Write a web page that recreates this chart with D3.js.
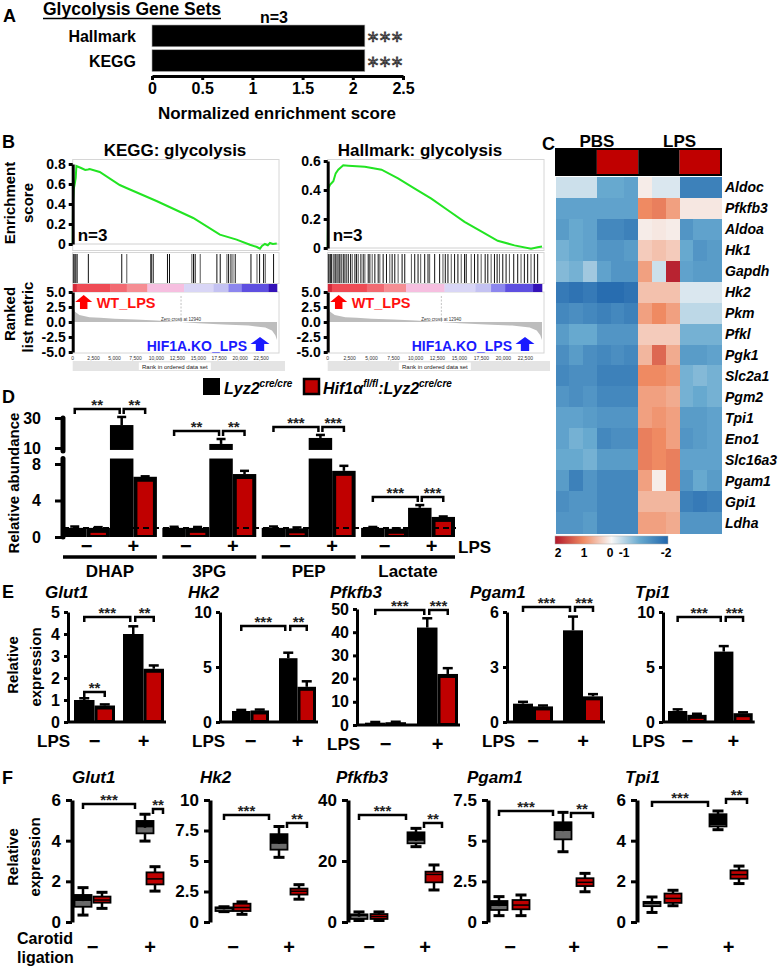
<!DOCTYPE html>
<html><head><meta charset="utf-8">
<script src="https://cdn.jsdelivr.net/npm/d3@7"></script>
<style>
body{margin:0;background:#fff;}
svg{display:block;}
</style></head><body>
<svg id="fig" width="781" height="968"></svg>
<script>
// ================= DATA =================
// Panel A
const nesSets = ["Hallmark", "KEGG"];
const nesScores = [2.12, 2.12];
const nesStars = ["***", "***"];
const nesTicks = [0, 0.5, 1, 1.5, 2, 2.5];

// Panel B (GSEA)
const rankMax = 24400;
const rankTicks = [0, 2500, 5000, 7500, 10000, 12500, 15000, 17500, 20000, 22500];
const keggES = [[0,0],[40,0.42],[120,0.55],[240,0.60],[360,0.66],[440,0.78],[1000,0.76],[1500,0.74],[1830,0.745],[2030,0.75],[3230,0.72],[5620,0.59],[6420,0.56],[10010,0.43],[14390,0.26],[17580,0.094],[19580,0.044],[21170,-0.007],[22000,-0.03],[22370,-0.047],[22600,-0.02],[22960,0.0],[23300,-0.012],[23560,0.01],[23900,0.0],[24370,0.005]];
const keggHits = [80,160,280,400,560,1870,5860,6460,9330,9450,9650,11320,11560,14230,14430,14630,15230,17220,17620,18420,18620,18900,19140,19410,21290,22010,22320,22800,23000,23990];
const hallmarkES = [[0,0],[70,0.41],[260,0.435],[640,0.46],[910,0.515],[1200,0.54],[1770,0.57],[2340,0.568],[4230,0.56],[6130,0.54],[8010,0.48],[9910,0.41],[11800,0.34],[13690,0.26],[15580,0.18],[17480,0.115],[19360,0.05],[21260,0.018],[23150,-0.005],[23900,0.005],[24400,0.01]];
const hallmarkHits = [72,186,337,450,640,829,942,1094,1283,1396,1585,1775,1964,2153,2342,2607,2796,3099,3288,3477,3780,4044,4234,4612,4801,5066,5369,5747,5936,6314,6693,7071,7336,7638,8017,8471,8773,9530,9908,10287,10589,11043,11421,11610,12178,12745,13124,13389,13691,14069,14448,14826,15204,15583,15772,16339,16717,17096,17474,17928,18231,18609,18987,19290,19555,19933,20311,20690,21181,21635,22014,22392,22770,23149,23527,23905];
const rankedMetric = [[0,3.3],[100,2.5],[280,1.7],[800,1.15],[2000,0.8],[3300,0.7],[5000,0.55],[7500,0.4],[10000,0.25],[12940,0],[15000,-0.2],[18000,-0.4],[21000,-0.6],[23000,-0.9],[23800,-1.4],[24200,-2.2],[24400,-3.0]];
const zeroCross = 12940;
const rankColorStops = [[0,"#d42a3a"],[480,"#ef4b55"],[4460,"#f26a72"],[6450,"#f58d93"],[8920,"#f6bfe0"],[13300,"#d9d6f6"],[16810,"#c4c2f2"],[18600,"#8c86ee"],[20200,"#5e4fe0"],[23380,"#3412b8"]];
const keggTicks = [0, 0.2, 0.4, 0.6, 0.8];
const hallmarkTicks = [0, 0.2, 0.4, 0.6];
const metricTicks = [5, 2.5, 0, -2.5, -5];

// Panel C (heatmap)
const heatGroups = ["PBS", "LPS"];
const heatColGenotype = ["WT","WT","WT","KO","KO","KO","WT","WT","WT","KO","KO","KO"];
const heatGenes = ["Aldoc","Pfkfb3","Aldoa","Hk1","Gapdh","Hk2","Pkm","Pfkl","Pgk1","Slc2a1","Pgm2","Tpi1","Eno1","Slc16a3","Pgam1","Gpi1","Ldha"];
const heatValues = [
  [-0.3,-0.3,-0.3,-1.0,-1.0,-1.1, 0.1,-0.2,-0.2,-1.6,-1.6,-1.6],
  [-1.1,-1.1,-1.1,-1.1,-1.1,-1.1, 1.0, 1.1, 0.8, 0.15,0.15,0.15],
  [-1.2,-1.0,-1.1,-1.5,-1.5,-1.6, 0.1, 0.15,0.1,-1.3,-1.1,-1.1],
  [-0.9,-1.0,-1.1,-1.3,-1.3,-1.2, 0.4, 0.5, 0.4,-1.0,-1.3,-1.2],
  [-0.8,-0.9,-0.6,-1.1,-1.3,-1.3, 0.8,-0.3, 1.9,-1.1,-1.2,-1.2],
  [-1.7,-1.8,-1.7,-1.9,-1.9,-1.8, 0.5, 0.5, 0.5,-0.2,-0.2,-0.2],
  [-1.5,-1.4,-1.5,-1.6,-1.5,-1.6, 0.8, 1.0, 0.8,-0.4,-0.4,-0.4],
  [-1.2,-1.0,-1.0,-1.3,-1.3,-1.3, 0.4, 0.4, 0.4,-0.9,-0.9,-0.9],
  [-1.4,-1.2,-1.4,-1.5,-1.4,-1.5, 0.6, 1.3, 0.7,-1.2,-1.2,-1.1],
  [-1.5,-1.4,-1.4,-1.6,-1.6,-1.6, 1.0, 1.0, 0.9,-0.9,-0.8,-0.9],
  [-1.3,-1.4,-1.3,-1.5,-1.5,-1.5, 0.8, 0.8, 0.7,-0.9,-1.0,-0.9],
  [-1.1,-1.1,-1.2,-1.3,-1.3,-1.3, 0.8, 0.9, 0.8,-1.2,-1.2,-1.1],
  [-1.1,-0.9,-1.0,-1.5,-1.4,-1.4, 1.1, 1.0, 0.8,-1.3,-1.2,-1.1],
  [-1.0,-1.0,-0.9,-1.2,-1.2,-1.2, 1.1, 1.0, 1.1,-1.1,-1.1,-1.1],
  [-1.2,-1.6,-1.3,-1.5,-1.5,-1.5, 0.8, 0.1, 1.1,-1.3,-1.0,-1.2],
  [-1.4,-1.3,-1.3,-1.5,-1.5,-1.5, 0.6, 0.6, 0.6,-1.6,-1.7,-1.6],
  [-1.3,-1.3,-1.2,-1.5,-1.5,-1.5, 0.8, 0.8, 0.7,-1.3,-1.3,-1.3]
];
const heatLegendTicks = [2, 1, 0, -1, -2];

// Panel D (metabolites)
const metabolites = ["DHAP", "3PG", "PEP", "Lactate"];
const metabWT_PBS = [1.0, 1.0, 1.0, 1.0];
const metabKO_PBS = [1.0, 1.0, 0.95, 0.9];
const metabWT_LPS = [25.3, 12.7, 16.7, 3.2];
const metabKO_LPS = [6.6, 6.9, 7.25, 2.2];
const metabErrWT_PBS = [0.15, 0.12, 0.15, 0.1];
const metabErrKO_PBS = [0.08, 0.1, 0.1, 0.05];
const metabErrWT_LPS = [5.4, 3.3, 2.0, 0.3];
const metabErrKO_LPS = [0.05, 0.35, 0.55, 0.05];
const metabStars = [["**","**"],["**","**"],["***","***"],["***","***"]];
const metabLowTicks = [0, 4, 8];
const metabHighTicks = [10, 30];

// Legend
const genotypes = ["Lyz2", "Hif1α"];

// Panel E (qPCR bars)
const genesE = ["Glut1", "Hk2", "Pfkfb3", "Pgam1", "Tpi1"];
const exprWT_PBS = [1.0, 1.0, 1.0, 1.0, 1.0];
const exprKO_PBS = [0.75, 1.05, 1.2, 0.85, 0.65];
const exprWT_LPS = [4.0, 5.8, 42, 5.0, 6.4];
const exprKO_LPS = [2.42, 3.2, 22, 1.4, 0.8];
const errWT_PBS = [0.08, 0.1, 0.3, 0.1, 0.15];
const errKO_PBS = [0.05, 0.08, 0.2, 0.05, 0.1];
const errWT_LPS = [0.35, 0.5, 4, 0.75, 0.5];
const errKO_LPS = [0.15, 0.5, 2.5, 0.12, 0.08];
const yMaxE = [5, 10, 50, 6, 10];
const yTicksE = [[0,1,2,3,4,5],[0,5,10],[0,10,20,30,40,50],[0,3,6],[0,5,10]];
const starsE = [["***","**","**"],["***","**"],["***","***"],["***","***"],["***","***"]];

// Panel F (box plots) [low whisker, q1, median, q3, high whisker]
const genesF = ["Glut1", "Hk2", "Pfkfb3", "Pgam1", "Tpi1"];
const boxWT_sham = [[0.34,0.75,1.03,1.33,1.69],[0.85,0.9,1.05,1.2,1.25],[0.5,1.0,1.8,2.5,3.3],[0.39,0.74,0.98,1.29,1.56],[0.47,0.78,0.88,0.99,1.23]];
const boxKO_sham = [[0.67,0.95,1.08,1.25,1.46],[0.63,0.9,1.19,1.5,1.65],[0.5,1.0,1.8,2.6,3.3],[0.39,0.78,1.04,1.35,1.66],[0.8,0.94,1.16,1.4,1.56]];
const boxWT_lig = [[3.98,4.36,4.64,4.97,5.3],[5.3,5.93,6.4,7.2,7.83],[24.7,25.8,26.6,29.4,30.7],[4.32,5.08,5.59,6.13,6.74],[4.54,4.7,4.77,5.3,5.46]];
const boxKO_lig = [[1.52,1.85,2.12,2.44,2.72],[1.87,2.25,2.52,2.74,3.06],[10.5,13.0,15.6,16.5,18.7],[1.86,2.21,2.44,2.69,2.99],[1.89,2.13,2.33,2.54,2.75]];
const yMaxF = [6, 10, 40, 7.5, 6];
const yTicksF = [[0,2,4,6],[0,2.5,5,7.5,10],[0,20,40],[0,2.5,5,7.5],[0,2,4,6]];
const starsF = [["***","**"],["***","**"],["***","**"],["***","**"],["***","**"]];

// ================= DRAW =================
const FONT = "'Liberation Sans', Arial, Helvetica, sans-serif";
const RED = "#c00000";
const svg = d3.select("#fig").attr("font-family", FONT).attr("font-weight", "bold");

function txt(g, x, y, s, o = {}) {
  const t = g.append("text").attr("x", x).attr("y", y).text(s)
    .attr("font-size", o.size || 14).attr("font-weight", o.weight || "bold")
    .attr("text-anchor", o.anchor || "start").attr("fill", o.fill || "#000");
  if (o.italic) t.attr("font-style", "italic");
  if (o.family) t.attr("font-family", o.family);
  if (o.rotate) t.attr("transform", `rotate(-90,${x},${y})`);
  return t;
}
function styleAxis(ax, fs, w, tw) {
  ax.attr("font-family", FONT).attr("font-size", fs).attr("font-weight", "bold");
  ax.select(".domain").attr("stroke-width", w).attr("stroke", "#000");
  ax.selectAll(".tick line").attr("stroke-width", tw || w).attr("stroke", "#000");
  ax.selectAll(".tick text").attr("fill", "#000");
}
function bracket(g, x1, x2, y, label, fs = 15) {
  g.append("path").attr("d", `M${x1},${y + 5}V${y}H${x2}V${y + 5}`)
    .attr("fill", "none").attr("stroke", "#000").attr("stroke-width", 2.5);
  g.append("text").attr("x", (x1 + x2) / 2).attr("y", y + 1).attr("text-anchor", "middle")
    .attr("font-size", fs).attr("fill", "#222").text(label);
}
function upArrow(g, cx, top, w, h, fill) {
  const s = w * 0.22, m = top + h * 0.5;
  g.append("path").attr("d", `M${cx},${top}L${cx + w / 2},${m}L${cx + s},${m}L${cx + s},${top + h}L${cx - s},${top + h}L${cx - s},${m}L${cx - w / 2},${m}Z`).attr("fill", fill);
}

// ---------- Panel A ----------
{
  const g = svg.append("g");
  txt(g, 3, 22, "A", { size: 18 });
  txt(g, 43, 15, "Glycolysis Gene Sets", { size: 17.5 });
  g.append("line").attr("x1", 43).attr("x2", 221).attr("y1", 18.5).attr("y2", 18.5).attr("stroke", "#000").attr("stroke-width", 1.6);
  txt(g, 274, 23, "n=3", { size: 16, anchor: "middle" });
  const x = d3.scaleLinear().domain([0, 2.5]).range([152, 403]);
  const y = d3.scaleBand().domain(nesSets).range([25, 71.5]).paddingInner(0.12);
  nesSets.forEach((s, i) => {
    g.append("rect").attr("x", x(0)).attr("y", y(s)).attr("width", x(nesScores[i]) - x(0)).attr("height", y.bandwidth())
      .attr("fill", "#000").attr("stroke", "#aaa").attr("stroke-width", 0.6);
    txt(g, 136, y(s) + y.bandwidth() / 2 + 6, s, { size: 16, anchor: "end" });
    g.append("text").attr("x", x(nesScores[i]) + 3).attr("y", y(s) + y.bandwidth() / 2 + 12)
      .attr("font-family", "'DejaVu Sans', sans-serif").attr("font-size", 21).attr("font-weight", "normal")
      .attr("fill", "#fff").attr("stroke", "#333").attr("stroke-width", 0.9).attr("letter-spacing", 1.5).text(nesStars[i]);
  });
  const ax = g.append("g").attr("transform", "translate(0,76)")
    .call(d3.axisBottom(x).tickValues(nesTicks).tickSize(4).tickSizeOuter(0).tickPadding(3).tickFormat(d => String(d)));
  styleAxis(ax, 16, 3);
  txt(g, 277, 119, "Normalized enrichment score", { size: 17, anchor: "middle" });
}

// ---------- Panel B ----------
txt(svg, 2, 148, "B", { size: 18 });
txt(svg, 15, 203, "Enrichment", { size: 15, anchor: "middle", rotate: true });
txt(svg, 33, 203, "score", { size: 15, anchor: "middle", rotate: true });
txt(svg, 15, 314, "Ranked", { size: 15, anchor: "middle", rotate: true });
txt(svg, 33, 317, "list metric", { size: 15, anchor: "middle", rotate: true });

function drawGSEA(L, es, hits, esTicks, esMax, title) {
  const g = svg.append("g");
  const x = d3.scaleLinear().domain([0, rankMax]).range([L.x0, L.x1]);
  const yE = d3.scaleLinear().domain([0, esMax]).range([L.es0, L.esTop]);
  const yM = d3.scaleLinear().domain([-5, 5]).range([352, 292]);
  txt(g, L.titleX, 156, title, { size: 17, anchor: "middle" });
  g.append("rect").attr("x", L.x0).attr("y", 159.5).attr("width", L.x1 - L.x0 + 2).attr("height", 91)
    .attr("fill", "#fff").attr("stroke", "#d6d6d6").attr("stroke-width", 1);
  g.append("line").attr("x1", L.x0).attr("x2", L.x1 + 2).attr("y1", yE(0)).attr("y2", yE(0)).attr("stroke", "#d0d0d0");
  g.append("rect").attr("x", L.x0).attr("y", 252.5).attr("width", L.x1 - L.x0 + 2).attr("height", 31)
    .attr("fill", "#fff").attr("stroke", "#d6d6d6").attr("stroke-width", 1);
  g.append("rect").attr("x", L.x0).attr("y", 292).attr("width", L.x1 - L.x0 + 2).attr("height", 61)
    .attr("fill", "#fff").attr("stroke", "#d6d6d6").attr("stroke-width", 1);
  g.selectAll(".hit").data(hits).enter().append("line")
    .attr("x1", d => x(d)).attr("x2", d => x(d)).attr("y1", 254).attr("y2", 283)
    .attr("stroke", (d, i) => i % 3 === 1 ? "#555" : "#111").attr("stroke-width", 1);
  rankColorStops.forEach((s, i) => {
    const end = i < rankColorStops.length - 1 ? rankColorStops[i + 1][0] : rankMax;
    g.append("rect").attr("x", x(s[0])).attr("y", 284).attr("width", x(end) - x(s[0]) + 0.3).attr("height", 8).attr("fill", s[1]);
  });
  g.append("path").datum(rankedMetric)
    .attr("d", d3.area().x(d => x(d[0])).y0(yM(0)).y1(d => yM(d[1])))
    .attr("fill", "#bdbdbd");
  g.append("line").attr("x1", x(zeroCross)).attr("x2", x(zeroCross)).attr("y1", 296).attr("y2", yM(0))
    .attr("stroke", "#999").attr("stroke-width", 0.6).attr("stroke-dasharray", "2,1.5");
  txt(g, x(zeroCross), yM(0) - 1, "Zero cross at " + zeroCross, { size: 4.5, anchor: "middle", weight: "normal", fill: "#333" });
  g.append("path").datum(es)
    .attr("d", d3.line().x(d => x(d[0])).y(d => yE(d[1])))
    .attr("fill", "none").attr("stroke", "#22e422").attr("stroke-width", 2);
  txt(g, L.x0 + 5, 241, "n=3", { size: 17 });
  upArrow(g, L.x0 + 11, 295, 17, 14, "#ff0000");
  txt(g, L.x0 + 24, 308, "WT_LPS", { size: 14.5, fill: "#ff1010" });
  txt(g, L.x1 - 30, 351, "HIF1A.KO_LPS", { size: 14, fill: "#1a1aff", anchor: "end" });
  upArrow(g, L.x1 - 17, 337, 19, 14, "#1a1aff");
  g.append("rect").attr("x", L.x0).attr("y", 361).attr("width", L.x1 - L.x0 + 8).attr("height", 10).attr("fill", "#e4e4e4");
  rankTicks.forEach(t => txt(g, x(t), 359.5, d3.format(",")(t), { size: 5, weight: "normal", anchor: "middle", fill: "#333" }));
  const cx = (L.x0 + L.x1) / 2;
  g.append("rect").attr("x", cx - 36).attr("y", 362.5).attr("width", 72).attr("height", 7.5).attr("fill", "#fff");
  txt(g, cx, 368.5, "Rank in ordered data set", { size: 6, weight: "normal", anchor: "middle", fill: "#222" });
  const a1 = g.append("g").attr("transform", `translate(${L.x0},0)`)
    .call(d3.axisLeft(yE).tickValues(esTicks).tickSize(4).tickSizeOuter(0).tickPadding(3).tickFormat(d => d === 0 ? "0" : d.toFixed(1)));
  styleAxis(a1, 14, 3);
  const a2 = g.append("g").attr("transform", `translate(${L.x0},0)`)
    .call(d3.axisLeft(yM).tickValues(metricTicks).tickSize(4).tickSizeOuter(0).tickPadding(3).tickFormat(d => d.toFixed(1)));
  styleAxis(a2, 14, 3);
}
drawGSEA({ x0: 72.7, x1: 277, es0: 244, esTop: 164, titleX: 175 }, keggES, keggHits, keggTicks, 0.8, "KEGG: glycolysis");
drawGSEA({ x0: 327.7, x1: 542, es0: 248, esTop: 161, titleX: 420 }, hallmarkES, hallmarkHits, hallmarkTicks, 0.6, "Hallmark: glycolysis");

// ---------- Panel C ----------
{
  const g = svg.append("g");
  txt(g, 542, 150, "C", { size: 18 });
  const xC = d3.scaleBand().domain(d3.range(12)).range([555.5, 721]);
  const yC = d3.scaleBand().domain(heatGenes).range([177, 533]);
  const col = d3.scaleLinear().domain([2, 1, 0, -1, -2]).range(["#b2182b", "#ef8a62", "#f7f7f7", "#67a9cf", "#2166ac"]).clamp(true);
  heatGroups.forEach((h, i) => txt(g, xC(i * 6) + xC.bandwidth() * 3, 147, h, { size: 17, anchor: "middle" }));
  // header: merge consecutive columns of the same genotype
  let start = 0;
  heatColGenotype.forEach((gt, j) => {
    if (j === heatColGenotype.length - 1 || heatColGenotype[j + 1] !== gt) {
      g.append("rect").attr("x", xC(start)).attr("y", 149).attr("width", xC(j) + xC.bandwidth() - xC(start)).attr("height", 26)
        .attr("fill", gt === "WT" ? "#000" : RED);
      start = j + 1;
    }
  });
  g.append("rect").attr("x", 556).attr("y", 149).attr("width", 165).attr("height", 26).attr("fill", "none").attr("stroke", "#000").attr("stroke-width", 2);
  heatGenes.forEach((gene, r) => {
    heatValues[r].forEach((v, j) => {
      g.append("rect").attr("x", xC(j)).attr("y", yC(gene)).attr("width", xC.bandwidth() + 0.5).attr("height", yC.bandwidth() + 0.5)
        .attr("fill", col(v)).attr("shape-rendering", "crispEdges");
    });
    txt(g, 725, yC(gene) + yC.bandwidth() / 2 + 5, gene, { size: 14, italic: true });
  });
  const grad = svg.append("defs").append("linearGradient").attr("id", "hmgrad");
  heatLegendTicks.forEach((t, i) => grad.append("stop").attr("offset", i / (heatLegendTicks.length - 1)).attr("stop-color", col(t)));
  g.append("rect").attr("x", 555).attr("y", 536).attr("width", 113).attr("height", 8).attr("fill", "url(#hmgrad)").attr("stroke", "#aaa").attr("stroke-width", 0.5);
  const lx = d3.scaleLinear().domain([2, 1, 0, -1, -2]).range([558, 584, 610, 624, 666]);
  heatLegendTicks.forEach(t => txt(g, lx(t), 557, String(t), { size: 12, anchor: "middle" }));
}

// ---------- Legend ----------
{
  const g = svg.append("g");
  g.append("rect").attr("x", 203).attr("y", 378).attr("width", 17).attr("height", 17).attr("fill", "#000");
  const t1 = g.append("text").attr("x", 224).attr("y", 394).attr("font-size", 16).attr("font-style", "italic");
  t1.append("tspan").text(genotypes[0]);
  t1.append("tspan").text("cre/cre").attr("font-size", 10).attr("dy", -7);
  g.append("rect").attr("x", 304).attr("y", 379).attr("width", 15).attr("height", 15).attr("fill", RED).attr("stroke", "#000").attr("stroke-width", 2.5);
  const t2 = g.append("text").attr("x", 323).attr("y", 394).attr("font-size", 16).attr("font-style", "italic");
  t2.append("tspan").text(genotypes[1]);
  t2.append("tspan").text("fl/fl").attr("font-size", 10).attr("dy", -7);
  t2.append("tspan").text(":" + genotypes[0]).attr("dy", 7);
  t2.append("tspan").text("cre/cre").attr("font-size", 10).attr("dy", -7);
}

// ---------- Panel D ----------
{
  const g = svg.append("g");
  txt(g, 2, 403, "D", { size: 18 });
  txt(g, 19, 483, "Relative abundance", { size: 15, anchor: "middle", rotate: true });
  const xD = d3.scaleBand().domain(metabolites).range([63, 455]).paddingInner(0.055);
  const xIn = d3.scaleBand().domain(d3.range(4)).range([0, xD.bandwidth()]);
  const yLow = d3.scaleLinear().domain([0, 8]).range([537, 464]);
  const yHigh = d3.scaleLinear().domain([10, 30]).range([448, 418]);
  const yD = v => v <= 8.6 ? yLow(v) : yHigh(v);
  const lowTop = yLow(8.6), highBottom = yHigh(8.7);
  const series = [metabWT_PBS, metabKO_PBS, metabWT_LPS, metabKO_LPS];
  const errs = [metabErrWT_PBS, metabErrKO_PBS, metabErrWT_LPS, metabErrKO_LPS];
  const w = xIn.bandwidth();
  metabolites.forEach((m, i) => {
    const gx = xD(m);
    series.forEach((s, k) => {
      const v = s[i], e = errs[k][i], bx = gx + xIn(k);
      g.append("line").attr("x1", bx + w / 2).attr("x2", bx + w / 2).attr("y1", yD(v)).attr("y2", yD(v + e)).attr("stroke", "#000").attr("stroke-width", 2.5);
      g.append("line").attr("x1", bx + w / 2 - 4.5).attr("x2", bx + w / 2 + 4.5).attr("y1", yD(v + e)).attr("y2", yD(v + e)).attr("stroke", "#000").attr("stroke-width", 2.5);
      if (v <= 8.6) {
        g.append("rect").attr("x", bx).attr("y", yLow(v)).attr("width", w).attr("height", 537 - yLow(v)).attr("fill", "#000");
      } else {
        g.append("rect").attr("x", bx).attr("y", lowTop).attr("width", w).attr("height", 537 - lowTop).attr("fill", "#000");
        g.append("rect").attr("x", bx).attr("y", yHigh(v)).attr("width", w).attr("height", highBottom - yHigh(v)).attr("fill", "#000");
      }
      if (k % 2 === 1) {
        const top = yLow(Math.min(v, 8)) + 5;
        g.append("rect").attr("x", bx + 4).attr("y", top).attr("width", w - 8).attr("height", Math.max(0, 535 - top)).attr("fill", RED);
      }
    });
    const c = k => gx + xIn(k) + w / 2;
    const by = yD(Math.max(metabWT_LPS[i] + metabErrWT_LPS[i], metabKO_LPS[i] + metabErrKO_LPS[i])) - 8;
    bracket(g, c(0), c(2) - 2, by, metabStars[i][0]);
    bracket(g, c(2) + 2, c(3), by, metabStars[i][1]);
    txt(g, gx + xIn(1), 553, "\u2212", { size: 20, anchor: "middle" });
    txt(g, gx + xIn(3), 553, "+", { size: 20, anchor: "middle" });
    g.append("line").attr("x1", gx).attr("x2", gx + xD.bandwidth()).attr("y1", 557).attr("y2", 557).attr("stroke", "#000").attr("stroke-width", 3.5);
    txt(g, gx + xD.bandwidth() / 2, 577, m, { size: 17, anchor: "middle" });
  });
  g.append("line").attr("x1", 63).attr("x2", 456).attr("y1", yLow(1)).attr("y2", yLow(1))
    .attr("stroke", "#000").attr("stroke-width", 2).attr("stroke-dasharray", "6,4");
  txt(g, 458, 553, "LPS", { size: 17 });
  const a1 = g.append("g").attr("transform", "translate(63,0)").call(d3.axisLeft(yLow).tickValues(metabLowTicks).tickSize(8).tickSizeOuter(0).tickPadding(14));
  styleAxis(a1, 16, 5, 3);
  a1.select(".domain").remove();
  const a2 = g.append("g").attr("transform", "translate(63,0)").call(d3.axisLeft(yHigh).tickValues(metabHighTicks).tickSize(8).tickSizeOuter(0).tickPadding(14));
  styleAxis(a2, 16, 5, 3);
  a2.select(".domain").remove();
  g.append("line").attr("x1", 63).attr("x2", 63).attr("y1", 537).attr("y2", lowTop).attr("stroke", "#000").attr("stroke-width", 5).attr("stroke-linecap", "round");
  g.append("line").attr("x1", 63).attr("x2", 63).attr("y1", highBottom + 1).attr("y2", yHigh(30)).attr("stroke", "#000").attr("stroke-width", 5).attr("stroke-linecap", "round");
}

// ---------- Panel E ----------
{
  const g = svg.append("g");
  txt(g, 2, 598, "E", { size: 18 });
  txt(g, 18, 665, "Relative", { size: 15, anchor: "middle", rotate: true });
  txt(g, 41, 667, "expression", { size: 15, anchor: "middle", rotate: true });
  const layoutE = [
    { axisX: 68, off: 6, w: 20.5, gap: 8, top: 612, bottom: 722, titleX: 45, lpsX: 37, br: [617, 617, 692] },
    { axisX: 220, off: 12, w: 18.5, gap: 10, top: 612, bottom: 722, titleX: 188, lpsX: 192, br: [626, 626] },
    { axisX: 357, off: 8, w: 20.5, gap: 11, top: 609, bottom: 725, titleX: 330, lpsX: 327, br: [610, 610] },
    { axisX: 507, off: 6, w: 20, gap: 10, top: 612, bottom: 722, titleX: 470, lpsX: 482, br: [607, 607] },
    { axisX: 663, off: 5, w: 19.3, gap: 7.5, top: 612, bottom: 722, titleX: 635, lpsX: 632, br: [617, 617] }
  ];
  const series = [exprWT_PBS, exprKO_PBS, exprWT_LPS, exprKO_LPS];
  const errs = [errWT_PBS, errKO_PBS, errWT_LPS, errKO_LPS];
  genesE.forEach((gene, i) => {
    const L = layoutE[i];
    const y = d3.scaleLinear().domain([0, yMaxE[i]]).range([L.bottom, L.top]);
    const b0 = L.axisX + L.off;
    const bx = [b0, b0 + L.w, b0 + 2 * L.w + L.gap, b0 + 3 * L.w + L.gap];
    txt(g, L.titleX, 598, gene, { size: 17, italic: true });
    series.forEach((s, k) => {
      const v = s[i], e = errs[k][i], cx = bx[k] + L.w / 2;
      g.append("line").attr("x1", cx).attr("x2", cx).attr("y1", y(v)).attr("y2", y(v + e)).attr("stroke", "#000").attr("stroke-width", 2.5);
      g.append("line").attr("x1", cx - 5).attr("x2", cx + 5).attr("y1", y(v + e)).attr("y2", y(v + e)).attr("stroke", "#000").attr("stroke-width", 2.5);
      g.append("rect").attr("x", bx[k]).attr("y", y(v)).attr("width", L.w).attr("height", L.bottom - y(v)).attr("fill", "#000");
      if (k % 2 === 1) {
        const top = y(v) + 4;
        g.append("rect").attr("x", bx[k] + 3).attr("y", top).attr("width", L.w - 6).attr("height", Math.max(0, L.bottom - 2 - top)).attr("fill", RED);
      }
    });
    g.append("line").attr("x1", L.axisX).attr("x2", bx[3] + L.w + 2).attr("y1", L.bottom).attr("y2", L.bottom).attr("stroke", "#000").attr("stroke-width", 3);
    const ax = g.append("g").attr("transform", `translate(${L.axisX},0)`)
      .call(d3.axisLeft(y).tickValues(yTicksE[i]).tickSize(4).tickSizeOuter(0).tickPadding(4).tickFormat(d => String(d)));
    styleAxis(ax, 16, 3);
    const c = bx.map(b => b + L.w / 2);
    bracket(g, c[0], c[2] - 3, L.br[0], starsE[i][0]);
    bracket(g, c[2] + 2, c[3], L.br[1], starsE[i][1]);
    if (L.br[2]) bracket(g, c[0], c[1], L.br[2], starsE[i][2]);
    const ly = L.bottom + 26;
    txt(g, L.lpsX, ly - 1, "LPS", { size: 17 });
    txt(g, bx[1], ly, "\u2212", { size: 20, anchor: "middle" });
    txt(g, bx[3], ly, "+", { size: 20, anchor: "middle" });
  });
}

// ---------- Panel F ----------
{
  const g = svg.append("g");
  txt(g, 2, 784, "F", { size: 18 });
  txt(g, 18, 857, "Relative", { size: 15, anchor: "middle", rotate: true });
  txt(g, 40, 857, "expression", { size: 15, anchor: "middle", rotate: true });
  txt(g, 17, 944, "Carotid", { size: 16 });
  txt(g, 17, 963, "ligation", { size: 16 });
  const layoutF = [
    { axisX: 72, c: [83, 102, 145, 155], titleX: 72, br: [804, 809] },
    { axisX: 210, c: [224, 242, 279, 299], titleX: 200, br: [815, 823] },
    { axisX: 348, c: [359, 379, 416, 434], titleX: 336, br: [815, 823] },
    { axisX: 488, c: [499, 521, 563, 585], titleX: 467, br: [811, 813] },
    { axisX: 637, c: [652, 673, 718, 739], titleX: 625, br: [802, 799] }
  ];
  const boxes = [boxWT_sham, boxKO_sham, boxWT_lig, boxKO_lig];
  const bw = 17;
  genesF.forEach((gene, i) => {
    const L = layoutF[i];
    const y = d3.scaleLinear().domain([0, yMaxF[i]]).range([922, 800]);
    txt(g, L.titleX, 783, gene, { size: 17, italic: true });
    const ax = g.append("g").attr("transform", `translate(${L.axisX},0)`)
      .call(d3.axisLeft(y).tickValues(yTicksF[i]).tickSize(6).tickSizeOuter(0).tickPadding(5).tickFormat(d => String(d)));
    styleAxis(ax, 17, 4, 3);
    boxes.forEach((B, k) => {
      const [wl, q1, md, q3, wh] = B[i];
      const cx = L.c[k];
      g.append("line").attr("x1", cx).attr("x2", cx).attr("y1", y(wl)).attr("y2", y(wh)).attr("stroke", "#000").attr("stroke-width", 2.5);
      [wl, wh].forEach(v => g.append("line").attr("x1", cx - 5.5).attr("x2", cx + 5.5).attr("y1", y(v)).attr("y2", y(v)).attr("stroke", "#000").attr("stroke-width", 3));
      if (k % 2 === 0) {
        g.append("rect").attr("x", cx - bw / 2).attr("y", y(md)).attr("width", bw).attr("height", y(q1) - y(md)).attr("fill", "#6a6a6a");
        g.append("rect").attr("x", cx - bw / 2).attr("y", y(q3)).attr("width", bw).attr("height", y(md) - y(q3)).attr("fill", "#000");
        g.append("rect").attr("x", cx - bw / 2).attr("y", y(q3)).attr("width", bw).attr("height", y(q1) - y(q3)).attr("fill", "none").attr("stroke", "#000").attr("stroke-width", 1.8);
      } else {
        g.append("rect").attr("x", cx - bw / 2).attr("y", y(q3)).attr("width", bw).attr("height", y(q1) - y(q3)).attr("fill", RED).attr("stroke", "#000").attr("stroke-width", 1.8);
        g.append("line").attr("x1", cx - bw / 2).attr("x2", cx + bw / 2).attr("y1", y(md)).attr("y2", y(md)).attr("stroke", "#000").attr("stroke-width", 1.5);
      }
    });
    bracket(g, L.c[0], L.c[2] - 10, L.br[0], starsF[i][0]);
    bracket(g, L.c[2] + 8, L.c[3] + 8, L.br[1], starsF[i][1]);
    txt(g, (L.c[0] + L.c[1]) / 2, 954, "\u2212", { size: 20, anchor: "middle" });
    txt(g, (L.c[2] + L.c[3]) / 2, 954, "+", { size: 20, anchor: "middle" });
  });
}
</script>
</body></html>
